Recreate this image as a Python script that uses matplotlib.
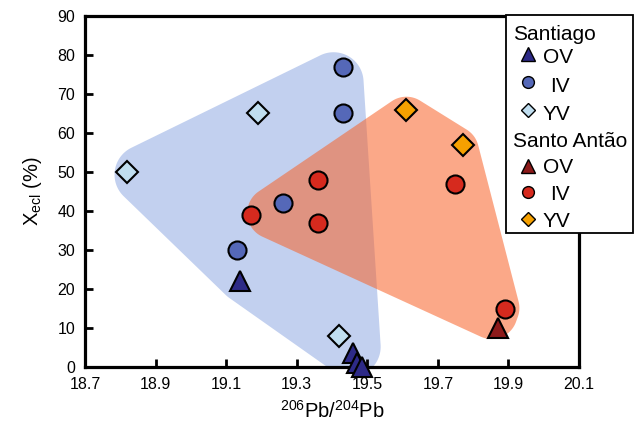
import numpy as np
import matplotlib
matplotlib.use("Agg")
import matplotlib.pyplot as plt
from matplotlib.lines import Line2D
from matplotlib.patches import Rectangle, Polygon

plt.rcParams['font.family'] = ['Liberation Sans', 'DejaVu Sans']
plt.rcParams['mathtext.default'] = 'regular'

# Santiago
stg_ov_x = [19.14, 19.46, 19.47, 19.485]
stg_ov_y = [22, 3.5, 1, 0]
stg_iv_x = [19.43, 19.43, 19.26, 19.13]
stg_iv_y = [77, 65, 42, 30]
stg_yv_x = [18.82, 19.19, 19.42]
stg_yv_y = [50, 65, 8]

# Santo Antão
sa_ov_x = [19.87]
sa_ov_y = [10]
sa_iv_x = [19.17, 19.36, 19.36, 19.75, 19.89]
sa_iv_y = [39, 48, 37, 47, 15]
sa_yv_x = [19.61, 19.77]
sa_yv_y = [66, 57]

x_ticks = [18.7, 18.9, 19.1, 19.3, 19.5, 19.7, 19.9, 20.1]
y_ticks = [0, 10, 20, 30, 40, 50, 60, 70, 80, 90]

c_navy = "#2d2a87"
c_blue = "#5568b8"
c_lblue = "#c0def0"
c_dred = "#8c1a1a"
c_red = "#d62a1e"
c_orange = "#f5a000"

W, H = 638, 429
fig = plt.figure(figsize=(W / 100, H / 100), dpi=100)
ax = fig.add_axes([85 / W, (H - 367) / H, (579 - 85) / W, (367 - 16) / H])
ax.set_xlim(18.7, 20.1)
ax.set_ylim(0, 90)


def convex_hull(pts):
    pts = sorted(map(tuple, pts))

    def cross(o, a, b):
        return (a[0] - o[0]) * (b[1] - o[1]) - (a[1] - o[1]) * (b[0] - o[0])

    lower, upper = [], []
    for p in pts:
        while len(lower) >= 2 and cross(lower[-2], lower[-1], p) <= 0:
            lower.pop()
        lower.append(p)
    for p in reversed(pts):
        while len(upper) >= 2 and cross(upper[-2], upper[-1], p) <= 0:
            upper.pop()
        upper.append(p)
    return np.array(lower[:-1] + upper[:-1])


def shrink(poly, d):
    # intersect half-planes of each edge moved inward by d (poly is CCW)
    out = np.array([[-1e5, -1e5], [1e5, -1e5], [1e5, 1e5], [-1e5, 1e5]])
    n = len(poly)
    for i in range(n):
        a, b = poly[i], poly[(i + 1) % n]
        e = b - a
        nrm = np.array([e[1], -e[0]]) / np.hypot(*e)   # outward normal
        c = nrm @ a - d
        clipped = []
        m = len(out)
        for j in range(m):
            p, q = out[j], out[(j + 1) % m]
            fp, fq = nrm @ p - c, nrm @ q - c
            if fp <= 0:
                clipped.append(p)
            if fp * fq < 0:
                t = fp / (fp - fq)
                clipped.append(p + t * (q - p))
        out = np.array(clipped)
    return out


def rounded_hull(xs, ys, r_px, round_px):
    # hull edges sit r_px out from the points, corners get radius round_px
    pts = ax.transData.transform(np.column_stack([xs, ys]))
    core = shrink(convex_hull(pts), round_px - r_px)
    ang = np.linspace(0, 2 * np.pi, 120, endpoint=False)
    ring = np.column_stack([np.cos(ang), np.sin(ang)]) * round_px
    cloud = (core[:, None, :] + ring[None, :, :]).reshape(-1, 2)
    return ax.transData.inverted().transform(convex_hull(cloud))


stg_x = stg_ov_x + stg_iv_x + stg_yv_x
stg_y = stg_ov_y + stg_iv_y + stg_yv_y
sa_x = sa_ov_x + sa_iv_x + sa_yv_x
sa_y = sa_ov_y + sa_iv_y + sa_yv_y

ax.add_patch(Polygon(rounded_hull(stg_x, stg_y, 20, 30), closed=True,
                     fc="#c2d0ef", ec="none", zorder=1))
ax.add_patch(Polygon(rounded_hull(sa_x, sa_y, 15, 26), closed=True,
                     fc="#f86127", alpha=0.55, ec="none", zorder=1.1))

mk = dict(ls="none", mec="black", mew=1.5, clip_on=False, zorder=4)
ax.plot(stg_yv_x, stg_yv_y, marker="D", ms=11.5, mfc=c_lblue, **mk)
ax.plot(stg_iv_x, stg_iv_y, marker="o", ms=13, mfc=c_blue, **mk)
ax.plot(stg_ov_x, stg_ov_y, marker="^", ms=14.5, mfc=c_navy, **mk)
ax.plot(sa_yv_x, sa_yv_y, marker="D", ms=11.5, mfc=c_orange, **mk)
ax.plot(sa_ov_x, sa_ov_y, marker="^", ms=14.5, mfc=c_dred, **mk)
ax.plot(sa_iv_x, sa_iv_y, marker="o", ms=13, mfc=c_red, **mk)

ax.set_xticks(x_ticks)
ax.set_xticklabels(["%.1f" % v for v in x_ticks])
ax.set_yticks(y_ticks)
ax.tick_params(direction="in", length=6, width=2, pad=7, labelsize=11.5,
               top=False, right=False)
for s in ax.spines.values():
    s.set_linewidth(2.3)
    s.set_zorder(3)

ax.set_xlabel("$^{206}$Pb/$^{204}$Pb", fontsize=14.5, labelpad=6)
ax.set_ylabel("X$_{ecl}$ (%)", fontsize=14.5, labelpad=10)

# legend box (headers flush left, entries indented)
def fx(x):
    return x / W


def fy(y):
    return 1 - y / H


fig.add_artist(Rectangle((fx(506), fy(233)), (633 - 506) / W, (233 - 15) / H,
                         transform=fig.transFigure, fc="white", ec="black",
                         lw=1.3, zorder=10))

leg_headers = [("Santiago", 40), ("Santo Antão", 147)]
leg_rows = [("OV", "^", c_navy, 54, 63, 543),
            ("IV", "o", c_blue, 82, 92, 550),
            ("YV", "D", c_lblue, 110, 120, 543),
            ("OV", "^", c_dred, 166, 173, 543),
            ("IV", "o", c_red, 192, 200, 550),
            ("YV", "D", c_orange, 219, 227, 543)]
leg_ms = {"^": 9.5, "o": 8.5, "D": 7}

for label, yb in leg_headers:
    fig.text(fx(513), fy(yb), label, fontsize=15, va="baseline", ha="left",
             zorder=11)
for label, m, c, ym, yb, xt in leg_rows:
    fig.add_artist(Line2D([fx(528)], [fy(ym)], transform=fig.transFigure,
                          marker=m, ms=leg_ms[m], mfc=c, mec="black", mew=1.0,
                          ls="none", zorder=11))
    fig.text(fx(xt), fy(yb), label, fontsize=15, va="baseline", ha="left",
             zorder=11)

fig.savefig("out.png", dpi=100)
